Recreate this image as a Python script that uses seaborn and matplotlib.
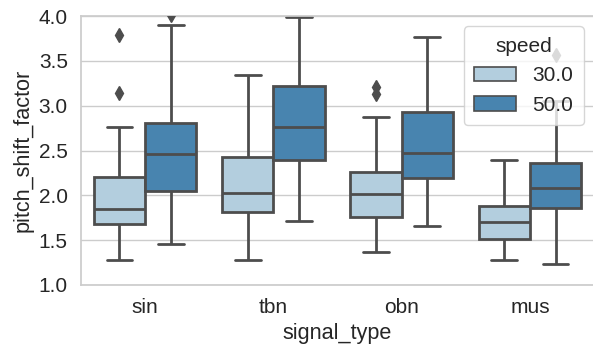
import numpy as np
import pandas as pd
import matplotlib
matplotlib.use("Agg")
import matplotlib.pyplot as plt
import seaborn as sns

# box summary (per signal_type, per speed)
signal_types = ["sin", "tbn", "obn", "mus"]
speeds = ["30.0", "50.0"]

# order of each list: sin30, sin50, tbn30, tbn50, obn30, obn50, mus30, mus50
whisker_low = [1.28, 1.46, 1.28, 1.71, 1.37, 1.66, 1.28, 1.23]
q1 = [1.68, 2.05, 1.81, 2.39, 1.76, 2.19, 1.51, 1.86]
median = [1.85, 2.46, 2.03, 2.76, 2.01, 2.47, 1.70, 2.08]
q3 = [2.21, 2.81, 2.43, 3.22, 2.26, 2.93, 1.88, 2.36]
whisker_high = [2.76, 3.90, 3.34, 3.99, 2.87, 3.77, 2.39, 3.05]
outliers = [[3.14, 3.79], [4.01], [], [], [3.13, 3.21], [], [], [3.56]]


def group_sample(lo, a, m, b, hi, out):
    # 13 values so that the quartiles fall exactly on a, m, b
    high_out = [v for v in out if v > b]
    low_out = [v for v in out if v < a]
    low = low_out + [lo] + [a] * (2 - len(low_out))
    high = [b] * (2 - len(high_out)) + [hi] + high_out
    return low + [a, m, m, m, m, m, b] + high


rows = []
i = 0
for st in signal_types:
    for sp in speeds:
        for v in group_sample(whisker_low[i], q1[i], median[i], q3[i], whisker_high[i], outliers[i]):
            rows.append({"signal_type": st, "speed": sp, "pitch_shift_factor": v})
        i += 1
df = pd.DataFrame(rows)

sns.set_theme(style="whitegrid")
plt.rcParams["font.family"] = ["Liberation Sans", "DejaVu Sans"]

fig = plt.figure(figsize=(5.93, 3.51), dpi=100)
ax = fig.add_axes([81 / 593, 66 / 351, 513 / 593, 269 / 351])

line_gray = "0.3"
sns.boxplot(data=df, x="signal_type", y="pitch_shift_factor", hue="speed",
            order=signal_types, hue_order=speeds,
            palette=sns.color_palette("Blues", 2), saturation=0.75,
            linewidth=2, linecolor=line_gray, fliersize=7,
            flierprops={"marker": "d", "markerfacecolor": line_gray,
                        "markeredgecolor": line_gray, "zorder": 3},
            ax=ax)

ax.set_ylim(1.0, 4.0)
ax.set_yticks([1.0, 1.5, 2.0, 2.5, 3.0, 3.5, 4.0])
ax.tick_params(labelsize=15)
ax.set_xlabel("signal_type", fontsize=15.6)
ax.set_ylabel("pitch_shift_factor", fontsize=15.6)
leg = ax.legend(title="speed", loc="upper right", fontsize=15, title_fontsize=15,
                handlelength=2.0, borderpad=0.5, framealpha=0.8)
for h in leg.legend_handles:
    h.set_linewidth(1.2)
leg.set_zorder(20)

fig.savefig("out.png", dpi=100)
